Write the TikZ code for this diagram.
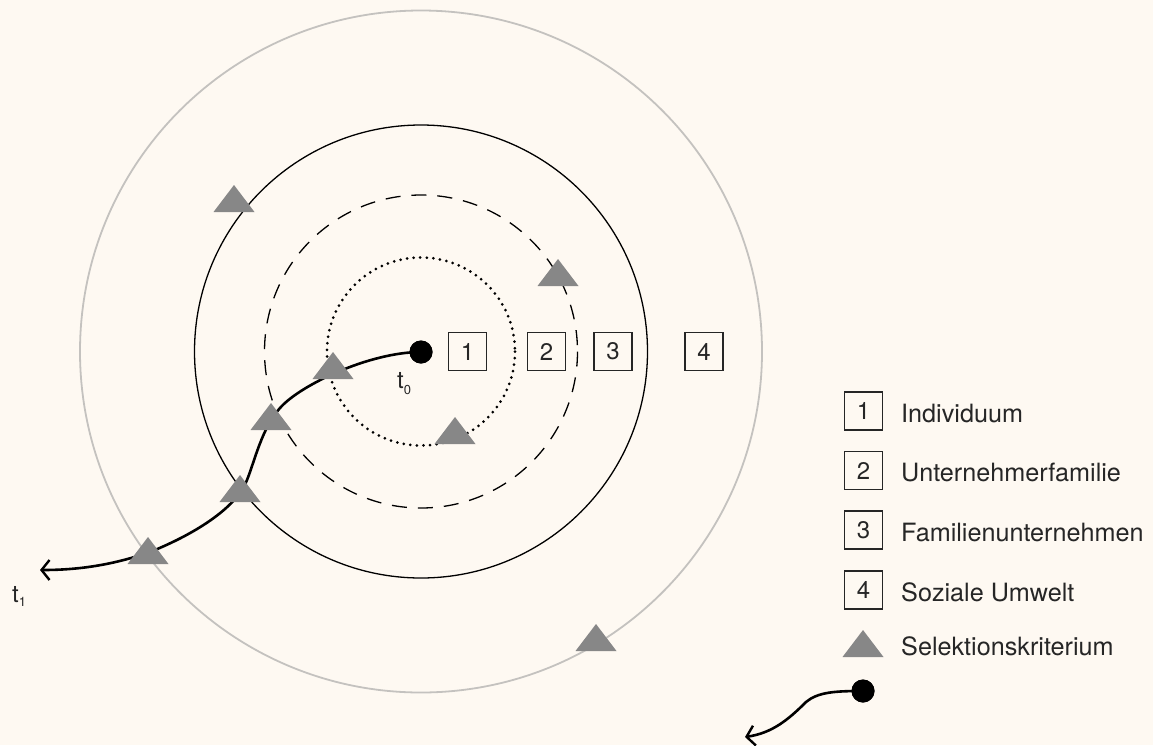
\documentclass[tikz,border=0pt]{standalone}
\usepackage{fontspec}
\setmainfont{TeX Gyre Heros}
\usetikzlibrary{arrows.meta}
\definecolor{bg}{HTML}{FEF9F2}
\definecolor{trigray}{HTML}{878787}
\definecolor{ringgray}{HTML}{C4C2BF}
\definecolor{ink}{HTML}{262626}
\begin{document}
\begin{tikzpicture}[x=1pt,y=-1pt,
  tri/.pic={\fill[trigray] (-20.5,0) -- (20.5,0) -- (0,-27) -- cycle;},
  numbox/.style={draw=ink,line width=1.1pt,minimum width=38pt,minimum height=38pt,inner sep=0pt,
    text=ink,font=\fontsize{24}{24}\selectfont},
  legtext/.style={anchor=base west,inner sep=0pt,text=ink,font=\fontsize{25.2}{28}\selectfont},
  tlabel/.style={anchor=base west,inner sep=0pt,text=ink,font=\fontsize{24}{24}\selectfont},
  pathline/.style={line width=2.6pt,draw=black,-{Straight Barb[length=8pt,width=20pt,line width=2.4pt]}},
  dotnode/.style={circle,fill=black,minimum size=23pt,inner sep=0pt}
]
\useasboundingbox (0,0) rectangle (1153,745);
\fill[bg] (0,0) rectangle (1153,745);

% rings
\coordinate (c) at (421,351.5);
\draw[ringgray,line width=1.8pt] (c) circle[radius=341];
\draw[black,line width=1.3pt] (c) circle[radius=226.5];
\draw[black,line width=1.3pt,dash pattern=on 15pt off 11pt] (c) circle[radius=156.5];
\draw[black,line width=3pt,line cap=round,dash pattern=on 0pt off 6.6pt] (c) circle[radius=94];

% main trajectory
\node[dotnode] (t0dot) at (421,352) {};
\coordinate (t1end) at (40,570);
\draw[pathline] (t0dot.center) .. controls (370,352) and (300,385) .. (280,408)
  .. controls (262,428) and (255,460) .. (247,480)
  .. controls (238,505) and (200,532) .. (150,552)
  .. controls (110,566) and (75,570) .. (t1end);

% legend trajectory
\node[dotnode] (legdot) at (863,691) {};
\coordinate (legend) at (745,737);
\draw[pathline] (legdot.center) .. controls (835,691) and (818,692) .. (806,702)
  .. controls (788,720) and (772,733) .. (legend);
\node[dotnode] at (863,691) {};
\node[dotnode] at (421,352) {};

% triangles
\pic at (234,212) {tri};
\pic at (558,286) {tri};
\pic at (455,444) {tri};
\pic at (596,651) {tri};
\pic at (333,379) {tri};
\pic at (271,430) {tri};
\pic at (240,502) {tri};
\pic at (148,564) {tri};
\pic at (863,657) {tri};

% number boxes in diagram
\node[numbox] (b1) at (467.5,351.5) {1};
\node[numbox] (b2) at (546.5,351.5) {2};
\node[numbox] (b3) at (613,351.5) {3};
\node[numbox] (b4) at (704,351.5) {4};

% time labels
\node[tlabel] (lt0) at (397,388) {t\raisebox{-6pt}{\fontsize{13}{13}\selectfont 0}};
\node[tlabel] (lt1) at (12,602) {t\raisebox{-4pt}{\fontsize{13}{13}\selectfont 1}};

% legend
\node[numbox] (l1) at (863.5,411) {1};
\node[numbox] (l2) at (863.5,470.5) {2};
\node[numbox] (l3) at (863.5,530) {3};
\node[numbox] (l4) at (863.5,590) {4};
\node[legtext] (n1) at (901,422) {Individuum};
\node[legtext] (n2) at (901,481.5) {Unternehmerfamilie};
\node[legtext] (n3) at (901,541) {Familienunternehmen};
\node[legtext] (n4) at (901,601) {Soziale Umwelt};
\node[legtext] (n5) at (901,655) {Selektionskriterium};
\end{tikzpicture}
\end{document}
